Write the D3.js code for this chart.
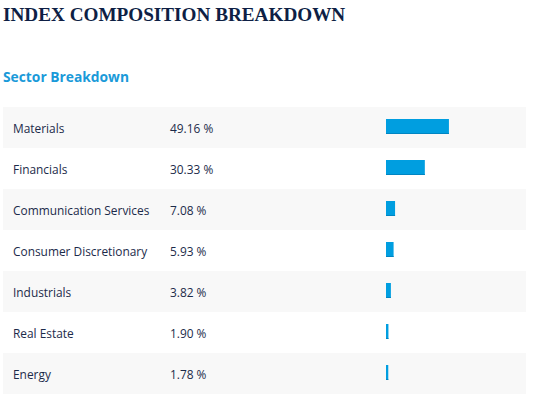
<!DOCTYPE html>
<html>
<head>
<meta charset="utf-8">
<script src="https://cdn.jsdelivr.net/npm/d3@7"></script>
<style>
  body { margin: 0; background: #fff; }
  svg text { font-family: "Open Sans", sans-serif; }
</style>
</head>
<body>
<svg id="chart"></svg>
<script>
const sectors = [
  "Materials",
  "Financials",
  "Communication Services",
  "Consumer Discretionary",
  "Industrials",
  "Real Estate",
  "Energy"
];
const weights = [49.16, 30.33, 7.08, 5.93, 3.82, 1.90, 1.78];

const width = 540, height = 398;
const rowTop = 107, rowH = 41;

const svg = d3.select("#chart").attr("width", width).attr("height", height);

svg.append("text")
  .attr("x", 3).attr("y", 21)
  .style("font-family", "'Liberation Serif', serif")
  .style("font-weight", "bold")
  .style("font-size", "19.2px")
  .attr("fill", "#0e1f45")
  .text("INDEX COMPOSITION BREAKDOWN");

svg.append("text")
  .attr("x", 3).attr("y", 82)
  .style("font-weight", "bold")
  .style("font-size", "13.8px")
  .attr("fill", "#1a9ad9")
  .text("Sector Breakdown");

const y = d3.scaleBand()
  .domain(sectors)
  .range([rowTop, rowTop + rowH * sectors.length]);

const x = d3.scaleLinear().domain([0, 100]).range([386, 514]);

const rows = svg.selectAll("g.row")
  .data(sectors.map((s, i) => ({ name: s, value: weights[i], i })))
  .join("g")
  .attr("class", "row")
  .attr("transform", d => `translate(0,${y(d.name)})`);

rows.append("rect")
  .attr("x", 3).attr("width", 523)
  .attr("height", y.bandwidth())
  .attr("fill", d => d.i % 2 === 0 ? "#f8f8f8" : "#fff");

rows.append("text")
  .attr("x", 13).attr("y", 26)
  .style("font-size", "11.9px")
  .attr("fill", "#1c2b4a")
  .text(d => d.name);

rows.append("text")
  .attr("x", 170).attr("y", 26)
  .style("font-size", "11.9px")
  .attr("fill", "#1c2b4a")
  .text(d => d.value.toFixed(2) + " %");

rows.append("rect")
  .attr("x", x(0)).attr("y", 12)
  .attr("width", d => x(d.value) - x(0))
  .attr("height", 15)
  .attr("fill", "#009ee0");

rows.append("rect")
  .attr("x", x(0)).attr("y", 26)
  .attr("width", d => x(d.value) - x(0))
  .attr("height", 1)
  .attr("fill", "#0085c2");
</script>
</body>
</html>
